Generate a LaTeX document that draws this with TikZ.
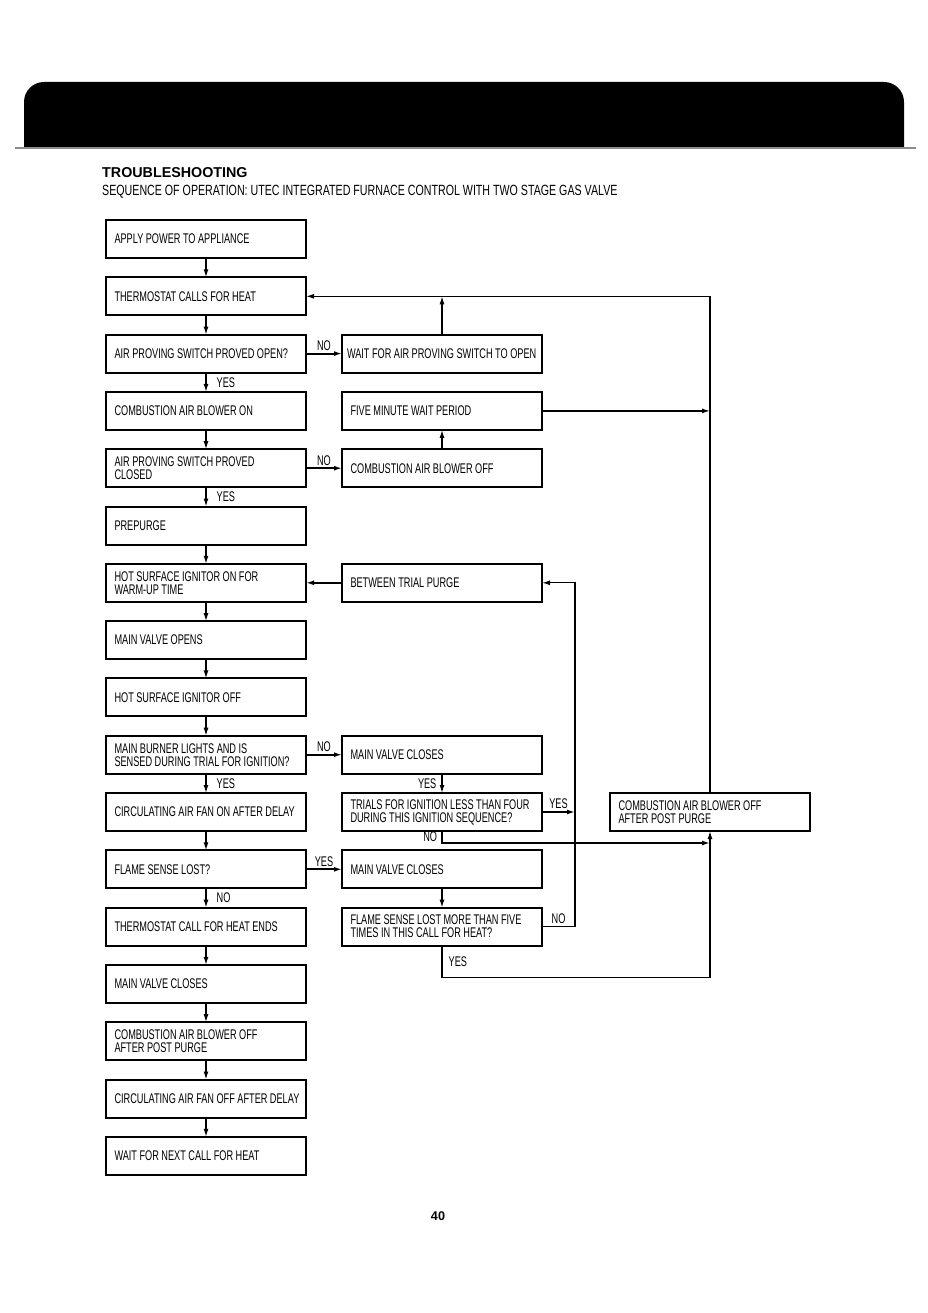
\documentclass[tikz,border=0pt]{standalone}
\usepackage{fontspec}
\setmainfont{Liberation Sans}
\newfontfamily\condfont[FakeStretch=0.655]{Liberation Sans}
\newfontfamily\headfont[FakeStretch=0.72]{Liberation Sans}
\newcommand\boxfont{\condfont\fontsize{14}{13}\selectfont\fontdimen2\font=2.5pt\relax}
\usetikzlibrary{arrows.meta,positioning}
\definecolor{rulegray}{RGB}{140,140,140}

\begin{document}
\begin{tikzpicture}[
            x=1pt, y=1pt,
            font=\boxfont,
            box/.style={
                    draw, line width=2pt, outer sep=0pt, align=flush left,
                    text width=191pt, inner xsep=4.5pt, inner ysep=2pt,
                    minimum height=38pt,
                    execute at begin node={\hyphenpenalty=10000\leftskip=4pt}
                },
            lbl/.style={inner sep=2pt},
            arr/.style={-{Latex[length=8pt,width=5pt]}, line width=1.3pt},
            branch/.style={arr, line width=2pt},
            node distance=19.3pt and 36pt
            ]
            \useasboundingbox (0,0) rectangle (927,-1313);

            % page header
            \fill (24,-148) -- (24,-102) arc[start angle=180, end angle=90, radius=20pt]
                -- (884,-82) arc[start angle=90, end angle=0, radius=20pt] -- (904,-148) -- cycle;
            \draw[rulegray, line width=1.5pt] (15,-148) -- (916,-148);
            \node[anchor=base west, inner sep=0pt, font=\rmfamily\bfseries\fontsize{14.3}{16}\selectfont]
                (title) at (102,-178) {TROUBLESHOOTING};
            \node[anchor=base west, inner sep=0pt, font=\headfont\fontsize{14.8}{16}\selectfont]
                (subtitle) at (102,-196) {SEQUENCE OF OPERATION: UTEC INTEGRATED FURNACE CONTROL WITH TWO STAGE GAS VALVE};

            % main sequence
            \node[box] (apply) at (206,-239) {APPLY POWER TO APPLIANCE};
            \node[box, below=of apply] (thermo) {THERMOSTAT CALLS FOR HEAT};
            \node[box, below=of thermo] (openq) {AIR PROVING SWITCH PROVED OPEN?};
            \node[box, below=of openq] (blowon) {COMBUSTION AIR BLOWER ON};
            \node[box, below=of blowon] (closedq) {AIR PROVING SWITCH PROVED\\CLOSED};
            \node[box, below=of closedq] (prepurge) {PREPURGE};
            \node[box, below=of prepurge] (hsion) {HOT SURFACE IGNITOR ON FOR\\WARM-UP TIME};
            \node[box, below=of hsion] (mvopen) {MAIN VALVE OPENS};
            \node[box, below=of mvopen] (hsioff) {HOT SURFACE IGNITOR OFF};
            \node[box, below=of hsioff] (burnerq) {MAIN BURNER LIGHTS AND IS\\SENSED DURING TRIAL FOR IGNITION?};
            \node[box, below=of burnerq] (fanon) {CIRCULATING AIR FAN ON AFTER DELAY};
            \node[box, below=of fanon] (flameq) {FLAME SENSE LOST?};
            \node[box, below=of flameq] (callend) {THERMOSTAT CALL FOR HEAT ENDS};
            \node[box, below=of callend] (mvclose) {MAIN VALVE CLOSES};
            \node[box, below=of mvclose] (postpurge) {COMBUSTION AIR BLOWER OFF\\AFTER POST PURGE};
            \node[box, below=of postpurge] (fanoff) {CIRCULATING AIR FAN OFF AFTER DELAY};
            \node[box, below=of fanoff] (waitnext) {WAIT FOR NEXT CALL FOR HEAT};

            % side branches
            \node[box, right=of openq, text width=198pt, inner xsep=1pt] (waitopen)
            {WAIT FOR AIR PROVING SWITCH TO OPEN};
            \node[box, right=of blowon] (fivemin) {FIVE MINUTE WAIT PERIOD};
            \node[box, right=of closedq] (blowoff) {COMBUSTION AIR BLOWER OFF};
            \node[box, right=of hsion] (purge) {BETWEEN TRIAL PURGE};
            \node[box, right=of burnerq] (mvclosea) {MAIN VALVE CLOSES};
            \node[box, right=of fanon] (trialsq)
            {TRIALS FOR IGNITION LESS THAN FOUR\\DURING THIS IGNITION SEQUENCE?};
            \node[box, right=of flameq] (mvcloseb) {MAIN VALVE CLOSES};
            \node[box, right=of callend] (lostq)
            {FLAME SENSE LOST MORE THAN FIVE\\TIMES IN THIS CALL FOR HEAT?};
            \node[box, right=68pt of trialsq] (blowpost)
            {COMBUSTION AIR BLOWER OFF\\AFTER POST PURGE};

            \node[anchor=base, inner sep=0pt, font=\rmfamily\bfseries\fontsize{12.6}{15}\selectfont]
                (pagenum) at (438,-1220) {40};

            \draw[arr] (apply) -- (thermo);
            \draw[arr] (thermo) -- (openq);
            \draw[arr] (openq) -- node[right, lbl, xshift=8pt] {YES} (blowon);
            \draw[arr] (blowon) -- (closedq);
            \draw[arr] (closedq) -- node[right, lbl, xshift=8pt] {YES} (prepurge);
            \draw[arr] (prepurge) -- (hsion);
            \draw[arr] (hsion) -- (mvopen);
            \draw[arr] (mvopen) -- (hsioff);
            \draw[arr] (hsioff) -- (burnerq);
            \draw[arr] (burnerq) -- node[right, lbl, xshift=8pt] {YES} (fanon);
            \draw[arr] (fanon) -- (flameq);
            \draw[arr] (flameq) -- node[right, lbl, xshift=8pt] {NO} (callend);
            \draw[arr] (callend) -- (mvclose);
            \draw[arr] (mvclose) -- (postpurge);
            \draw[arr] (postpurge) -- (fanoff);
            \draw[arr] (fanoff) -- (waitnext);

            \draw[branch] (openq) -- node[above, lbl] {NO} (waitopen);
            \draw[arr] (waitopen) -- (waitopen.north |- thermo.east);
            \draw[arr] (blowpost) -- (blowpost.north |- thermo.east) -- (thermo);
            \draw[branch] (closedq) -- node[above, lbl] {NO} (blowoff);
            \draw[arr] (blowoff) -- (fivemin);
            \draw[arr] (fivemin) -- (fivemin.east -| blowpost.north);
            \draw[branch] (purge) -- (hsion);
            \draw[branch] (burnerq) -- node[above, lbl] {NO} (mvclosea);
            \draw[arr] (mvclosea) -- node[left, lbl, xshift=-3pt] {YES} (trialsq);
            \draw[branch] (trialsq.east) -- node[above, lbl] {YES} ++(33,0) coordinate (trialsyes);
            \draw[branch] (trialsq.south) -- node[left, lbl, xshift=-2pt] {NO} ++(0,-12) coordinate (trialsno)
                -- (trialsno -| blowpost.south);
            \draw[branch] (flameq) -- node[above, lbl] {YES} (mvcloseb);
            \draw[arr] (mvcloseb) -- (lostq);
            \draw[arr] (lostq.east) -- node[above, lbl] {NO} ++(33,0) |- (purge.east);
            \draw[arr] (lostq.south) -- node[right, lbl, xshift=4pt] {YES} ++(0,-32) -| (blowpost.south);
        \end{tikzpicture}
\end{document}
